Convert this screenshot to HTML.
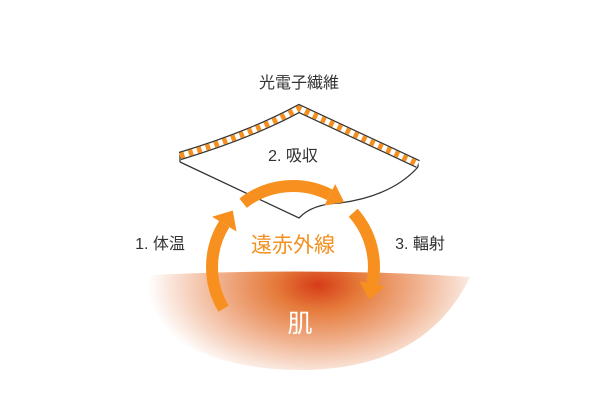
<!DOCTYPE html>
<html><head><meta charset="utf-8"><style>
html,body{margin:0;padding:0;background:#fff;}
svg{display:block;}
text{font-family:"Liberation Sans","Noto Sans CJK JP",sans-serif;}
</style></head><body>
<svg width="600" height="413" viewBox="0 0 600 413" xmlns="http://www.w3.org/2000/svg">
<defs>
<radialGradient id="skin" cx="318" cy="285" r="170" gradientUnits="userSpaceOnUse" gradientTransform="translate(318 285) scale(1 0.58) translate(-318 -285)">
<stop offset="0" stop-color="#d63c18"/>
<stop offset="0.25" stop-color="#e57a3a"/>
<stop offset="0.55" stop-color="#efab85"/>
<stop offset="0.82" stop-color="#f8dccd"/>
<stop offset="1" stop-color="#ffffff"/>
</radialGradient>
</defs>
<path d="M115,277 Q300,266 470,277 Q425,370 300,370 Q170,370 115,277Z" fill="url(#skin)"/>
<!-- fabric -->
<path d="M180,162 L299,218 Q312,204 340,203 Q392,196 418,167" fill="none" stroke="#333" stroke-width="1.3"/>
<line x1="180" y1="152" x2="180" y2="162" stroke="#333" stroke-width="1.3"/>
<line x1="418" y1="160" x2="418" y2="167" stroke="#333" stroke-width="1.3"/>
<path d="M180,156 Q250,135 299,108.5 L418,164" fill="none" stroke="#333" stroke-width="8.5"/>
<path d="M180,156 Q250,135 299,108.5 L418,164" fill="none" stroke="#fff" stroke-width="6"/>
<path d="M180,156 Q250,135 299,108.5 L418,164" fill="none" stroke="#f39020" stroke-width="6" stroke-dasharray="4.5 4.5"/>
<!-- arrows -->
<g fill="none" stroke="#f7901e" stroke-width="12">
<path d="M223.6,308.7 A81,81 0 0 1 224.3,224.1"/>
<path d="M243.1,203.2 A81,81 0 0 1 329.8,194.8"/>
<path d="M353.2,212.8 A81,81 0 0 1 372.2,283.8"/>
</g>
<g fill="#f7901e">
<polygon points="232.8,210.5 212.1,216.7 236.5,231.5"/>
<polygon points="344.1,202.1 335.2,184.1 324.4,205.5"/>
<polygon points="368.9,299.4 384.9,286.3 359.5,281.3"/>
</g>
<text x="299" y="88" font-size="16" fill="#333" text-anchor="middle">光電子繊維</text>
<text x="293" y="161" font-size="16" fill="#333" text-anchor="middle">2. 吸収</text>
<text x="160" y="249" font-size="16" fill="#333" text-anchor="middle">1. 体温</text>
<text x="420" y="249" font-size="16" fill="#333" text-anchor="middle">3. 輻射</text>
<text x="293" y="252" font-size="21" fill="#f39020" text-anchor="middle">遠赤外線</text>
<text x="300" y="332" font-size="25" fill="#fff" text-anchor="middle">肌</text>
</svg>
</body></html>
